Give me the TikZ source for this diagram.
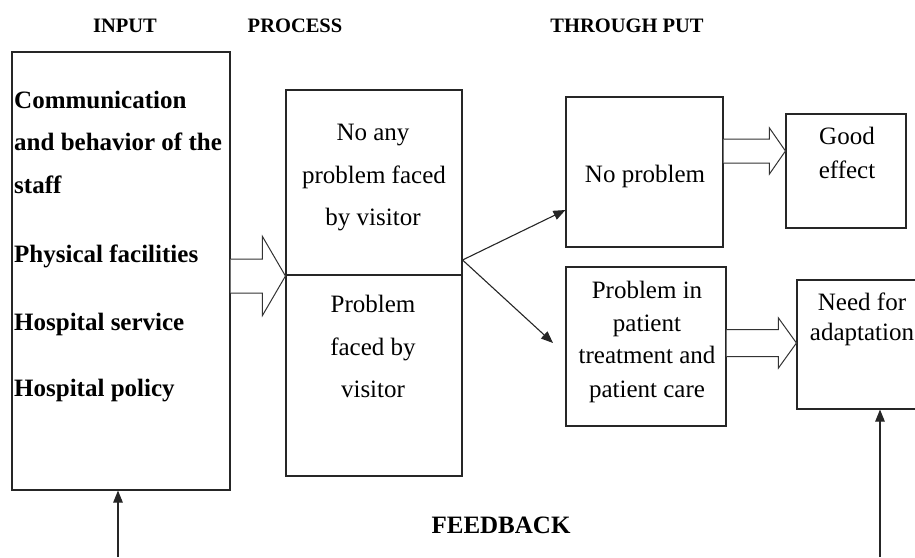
\documentclass[tikz,border=0pt]{standalone}
\usepackage{fontspec}
\setmainfont{Liberation Serif}
\usetikzlibrary{calc,arrows.meta}
\newcommand\harrow[6]{%
 \draw[hollow] (#1.east |- 0,#3-#4) -- ($(#2.west |- 0,#3-#4)+(-#6,0)$) -- ($(#2.west |- 0,#3-#5)+(-#6,0)$) -- (#2.west |- 0,#3) -- ($(#2.west |- 0,#3+#5)+(-#6,0)$) -- ($(#2.west |- 0,#3+#4)+(-#6,0)$) -- (#1.east |- 0,#3+#4);}
\begin{document}
\begin{tikzpicture}[x=1pt,y=-1pt,
  box/.style={draw=black!85,line width=1.1pt,inner sep=0pt},
  hollow/.style={draw=black!80,line width=1pt,fill=white},
  conn/.style={draw=black!85,line width=1.1pt,-{Triangle[length=12pt,width=9.5pt]}},
  bl/.style={font=\fontsize{25}{30}\selectfont\bfseries,anchor=base west,inner sep=0pt},
  tx/.style={font=\fontsize{25}{30}\selectfont,anchor=base,inner sep=0pt},
  ttl/.style={font=\fontsize{20.5}{24}\selectfont\bfseries,anchor=base,inner sep=0pt}]
\useasboundingbox (0,0) rectangle (915,557);
% titles
\node[ttl] (tin) at (125,32) {INPUT};
\node[ttl] (tpr) at (295,32) {PROCESS};
\node[ttl] (tth) at (627,32) {THROUGH PUT};
\node[font=\fontsize{25}{30}\selectfont\bfseries,anchor=base,inner sep=0pt] (tfb) at (501,533) {FEEDBACK};
% boxes
\node[box,minimum width=218pt,minimum height=438pt] (inbox) at (121,271) {};
\node[box,minimum width=176pt,minimum height=386pt] (procbox) at (374,283) {};
\node[box,minimum width=157pt,minimum height=150pt] (nobox) at (644.5,172) {};
\node[box,minimum width=120pt,minimum height=114pt] (goodbox) at (846,171) {};
\node[box,minimum width=160pt,minimum height=159pt] (probbox) at (646,346.5) {};
\node[box,minimum width=143pt,minimum height=129pt] (needbox) at (868.5,344.5) {};
\draw[draw=black!85,line width=1.1pt] (procbox.west |- 0,275) -- (procbox.east |- 0,275);
% input texts
\node[bl] (i1) at (14,108) {Communication};
\node[bl] (i2) at (14,150) {and behavior of the};
\node[bl] (i3) at (14,193) {staff};
\node[bl] (i4) at (14,262) {Physical facilities};
\node[bl] (i5) at (14,330) {Hospital service};
\node[bl] (i6) at (14,396) {Hospital policy};
% process texts
\node[tx] (p1) at (373,140) {No any};
\node[tx] (p2) at (374,183) {problem faced};
\node[tx] (p3) at (373,225) {by visitor};
\node[tx] (p4) at (373,312) {Problem};
\node[tx] (p5) at (373,355) {faced by};
\node[tx] (p6) at (373,397) {visitor};
% throughput texts
\node[tx] (n1) at (645,182) {No problem};
\node[tx] (g1) at (847,144) {Good};
\node[tx] (g2) at (847,178) {effect};
\node[tx] (r1) at (647,298) {Problem in};
\node[tx] (r2) at (647,331) {patient};
\node[tx] (r3) at (647,363) {treatment and};
\node[tx] (r4) at (647,397) {patient care};
\node[tx] (d1) at (862,310) {Need for};
\node[tx] (d2) at (862,340) {adaptation};
% hollow arrows
\harrow{inbox}{procbox}{276}{17}{39.5}{23}
\harrow{nobox}{goodbox}{151}{12}{23}{16}
\harrow{probbox}{needbox}{343}{13.5}{25}{18}
% branch arrows
\coordinate (br) at (procbox.east |- 0,260);
\coordinate (pe) at (553,343);
\draw[conn] (br) -- (nobox.west |- 0,210);
\draw[conn] (br) -- (pe);
% feedback arrows
\coordinate (fb1) at (118,557);
\coordinate (fb2) at (880,557);
\draw[conn] (fb1) -- (fb1 |- inbox.south);
\draw[conn] (fb2) -- (fb2 |- needbox.south);
\end{tikzpicture}
\end{document}
